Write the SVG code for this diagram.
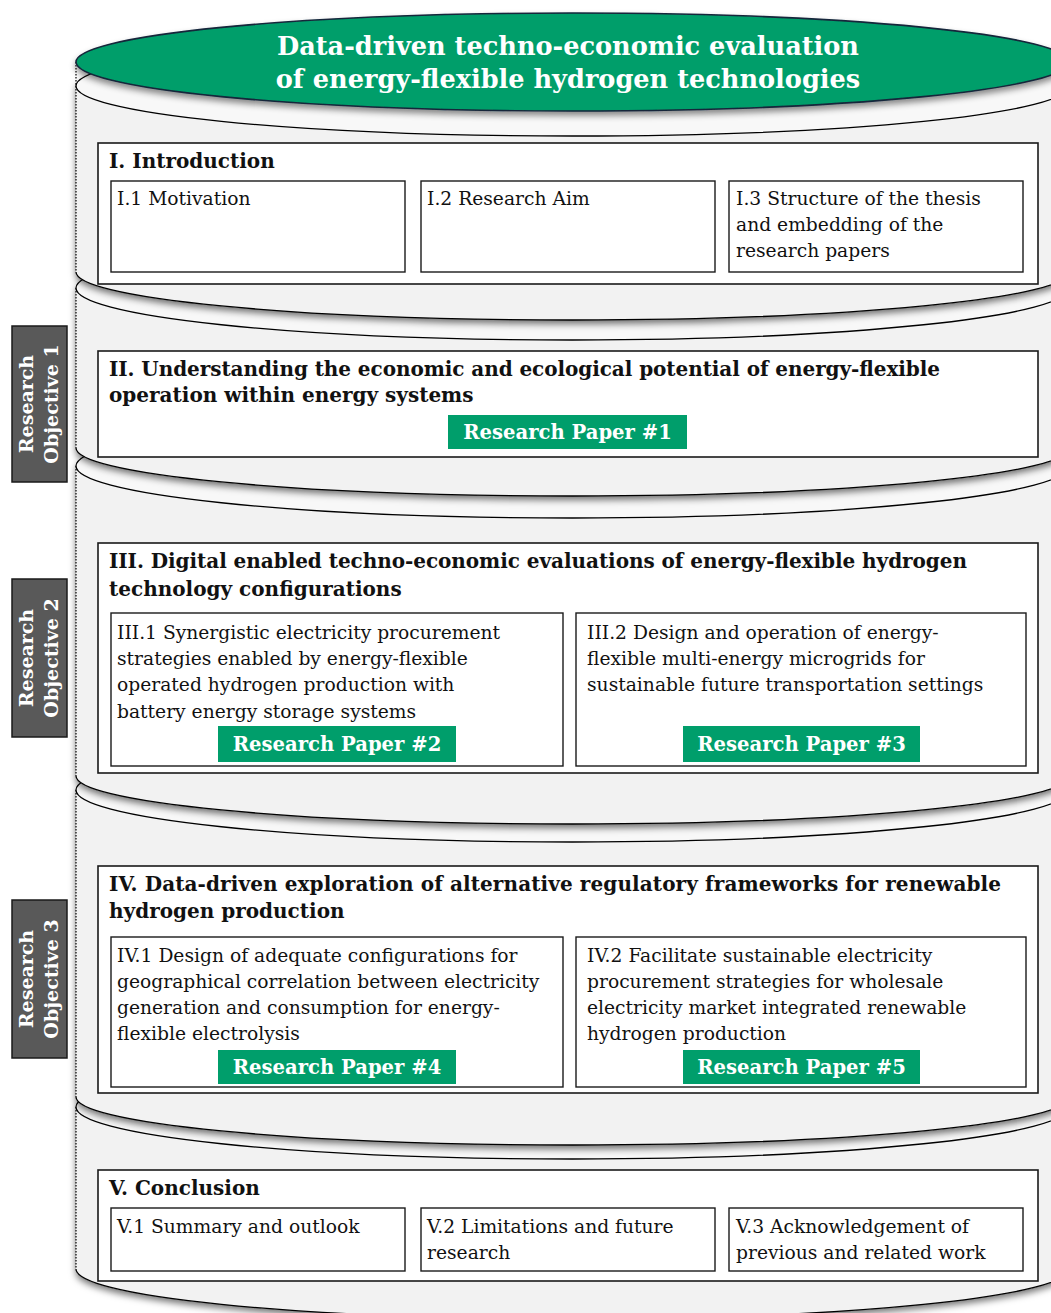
<svg xmlns="http://www.w3.org/2000/svg" width="1051" height="1313" viewBox="0 0 1051 1313">
<defs>
<filter id="sh" x="-5%" y="-20%" width="110%" height="140%">
<feDropShadow dx="0" dy="4" stdDeviation="3.5" flood-color="#000" flood-opacity="0.55"/>
</filter>
<filter id="sh2" x="-5%" y="-20%" width="110%" height="150%">
<feDropShadow dx="0" dy="4" stdDeviation="3" flood-color="#000" flood-opacity="0.45"/>
</filter>
<style>
.body{fill:#f2f2f2;stroke:none}
.face{fill:#f8f8f8;stroke:#000;stroke-width:1.3}
.arc{fill:none;stroke:#000;stroke-width:1.3}
.edge{stroke:#000;stroke-width:1.2;stroke-dasharray:1.5 1.5}
.box{fill:#fff;stroke:#1a1a1a;stroke-width:1.6}
.ibox{fill:#fff;stroke:#1a1a1a;stroke-width:1.4}
.t{font-family:"DejaVu Serif","Liberation Serif",serif;font-size:18.7px;fill:#111}
.b{font-family:"DejaVu Serif","Liberation Serif",serif;font-size:20px;font-weight:bold;fill:#111}
.rp{fill:#009e6b}
.rpt{font-family:"DejaVu Serif","Liberation Serif",serif;font-size:19.6px;font-weight:bold;fill:#fff;text-anchor:middle}
.ro{fill:#595959;stroke:#1a1a1a;stroke-width:1.5}
.rot{font-family:"DejaVu Serif","Liberation Serif",serif;font-size:19px;font-weight:bold;fill:#fff;text-anchor:middle}
.title{font-family:"DejaVu Serif","Liberation Serif",serif;font-size:25.6px;font-weight:bold;fill:#fff;text-anchor:middle}
</style>
</defs>

<g id="cylinder">
<g id="layer5">
<path class="body" filter="url(#sh)" d="M76,1107 L76,1269 A496.5,50 0 0 0 1069,1269 L1069,1107 A496.5,52 0 0 0 76,1107 Z"/>
<path class="arc" d="M76,1269 A496.5,50 0 0 0 1069,1269"/>
<line class="edge" x1="76" y1="1107" x2="76" y2="1269"/>
<ellipse class="face" cx="572.5" cy="1107" rx="496.5" ry="52"/>
</g>
<g id="layer4">
<path class="body" filter="url(#sh)" d="M76,790 L76,1097 A496.5,48 0 0 0 1069,1097 L1069,790 A496.5,52 0 0 0 76,790 Z"/>
<path class="arc" d="M76,1097 A496.5,48 0 0 0 1069,1097"/>
<line class="edge" x1="76" y1="790" x2="76" y2="1097"/>
<ellipse class="face" cx="572.5" cy="790" rx="496.5" ry="52"/>
</g>
<g id="layer3">
<path class="body" filter="url(#sh)" d="M76,466 L76,776 A496.5,48 0 0 0 1069,776 L1069,466 A496.5,52 0 0 0 76,466 Z"/>
<path class="arc" d="M76,776 A496.5,48 0 0 0 1069,776"/>
<line class="edge" x1="76" y1="466" x2="76" y2="776"/>
<ellipse class="face" cx="572.5" cy="466" rx="496.5" ry="52"/>
</g>
<g id="layer2">
<path class="body" filter="url(#sh)" d="M76,288 L76,448 A496.5,48 0 0 0 1069,448 L1069,288 A496.5,52 0 0 0 76,288 Z"/>
<path class="arc" d="M76,448 A496.5,48 0 0 0 1069,448"/>
<line class="edge" x1="76" y1="288" x2="76" y2="448"/>
<ellipse class="face" cx="572.5" cy="288" rx="496.5" ry="52"/>
</g>
<g id="layer1">
<path class="body" filter="url(#sh)" d="M76,86 L76,272 A496.5,48 0 0 0 1069,272 L1069,86 A496.5,50 0 0 0 76,86 Z"/>
<path class="arc" d="M76,272 A496.5,48 0 0 0 1069,272"/>
<line class="edge" x1="76" y1="86" x2="76" y2="272"/>
<ellipse class="face" cx="572.5" cy="86" rx="496.5" ry="50"/>
</g>
<line class="edge" x1="76" y1="62" x2="76" y2="86"/>
</g>

<g id="title">
<ellipse cx="572.5" cy="62" rx="496.5" ry="49" fill="#009e6b" stroke="#14263a" stroke-width="1.6" filter="url(#sh2)"/>
<text class="title" x="568" y="55">Data-driven techno-economic evaluation</text>
<text class="title" x="568" y="88">of energy-flexible hydrogen technologies</text>
</g>

<g id="ro1">
<rect class="ro" x="12" y="326" width="55" height="156"/>
<text class="rot" transform="translate(33,404) rotate(-90)">Research</text>
<text class="rot" transform="translate(58,404) rotate(-90)">Objective 1</text>
</g>
<g id="ro2">
<rect class="ro" x="12" y="579" width="55" height="158"/>
<text class="rot" transform="translate(33,658) rotate(-90)">Research</text>
<text class="rot" transform="translate(58,658) rotate(-90)">Objective 2</text>
</g>
<g id="ro3">
<rect class="ro" x="12" y="900" width="55" height="158"/>
<text class="rot" transform="translate(33,979) rotate(-90)">Research</text>
<text class="rot" transform="translate(58,979) rotate(-90)">Objective 3</text>
</g>

<g id="sec1">
<rect class="box" x="98" y="143" width="940" height="141"/>
<text class="b" x="109" y="168">I. Introduction</text>
</g>
<g id="sec1-1">
<rect class="ibox" x="111" y="181" width="294" height="91"/>
<text class="t" x="117" y="205">I.1 Motivation</text>
</g>
<g id="sec1-2">
<rect class="ibox" x="421" y="181" width="294" height="91"/>
<text class="t" x="427" y="205">I.2 Research Aim</text>
</g>
<g id="sec1-3">
<rect class="ibox" x="729" y="181" width="294" height="91"/>
<text class="t" x="736" y="205">I.3 Structure of the thesis</text>
<text class="t" x="736" y="231">and embedding of the</text>
<text class="t" x="736" y="257">research papers</text>
</g>

<g id="sec2">
<rect class="box" x="98" y="351" width="940" height="106"/>
<text class="b" x="109" y="376" textLength="831">II. Understanding the economic and ecological potential of energy-flexible</text>
<text class="b" x="109" y="402">operation within energy systems</text>
</g>
<g id="rp1">
<rect class="rp" x="448" y="415" width="239" height="34"/>
<text class="rpt" x="567.5" y="439">Research Paper #1</text>
</g>

<g id="sec3">
<rect class="box" x="98" y="543" width="940" height="230"/>
<text class="b" x="109" y="568" textLength="858">III. Digital enabled techno-economic evaluations of energy-flexible hydrogen</text>
<text class="b" x="109" y="596">technology configurations</text>
</g>
<g id="sec3-1">
<rect class="ibox" x="111" y="613" width="452" height="153"/>
<text class="t" x="117" y="639">III.1 Synergistic electricity procurement</text>
<text class="t" x="117" y="665">strategies enabled by energy-flexible</text>
<text class="t" x="117" y="691">operated hydrogen production with</text>
<text class="t" x="117" y="718">battery energy storage systems</text>
</g>
<g id="rp2">
<rect class="rp" x="218" y="726" width="238" height="36"/>
<text class="rpt" x="337" y="751">Research Paper #2</text>
</g>
<g id="sec3-2">
<rect class="ibox" x="576" y="613" width="450" height="153"/>
<text class="t" x="587" y="639">III.2 Design and operation of energy-</text>
<text class="t" x="587" y="665">flexible multi-energy microgrids for</text>
<text class="t" x="587" y="691">sustainable future transportation settings</text>
</g>
<g id="rp3">
<rect class="rp" x="683" y="726" width="237" height="36"/>
<text class="rpt" x="801.5" y="751">Research Paper #3</text>
</g>

<g id="sec4">
<rect class="box" x="98" y="866" width="940" height="227"/>
<text class="b" x="109" y="891" textLength="892">IV. Data-driven exploration of alternative regulatory frameworks for renewable</text>
<text class="b" x="109" y="918">hydrogen production</text>
</g>
<g id="sec4-1">
<rect class="ibox" x="111" y="937" width="452" height="150"/>
<text class="t" x="117" y="962">IV.1 Design of adequate configurations for</text>
<text class="t" x="117" y="988">geographical correlation between electricity</text>
<text class="t" x="117" y="1014">generation and consumption for energy-</text>
<text class="t" x="117" y="1040">flexible electrolysis</text>
</g>
<g id="rp4">
<rect class="rp" x="218" y="1050" width="238" height="34"/>
<text class="rpt" x="337" y="1074">Research Paper #4</text>
</g>
<g id="sec4-2">
<rect class="ibox" x="576" y="937" width="450" height="150"/>
<text class="t" x="587" y="962">IV.2 Facilitate sustainable electricity</text>
<text class="t" x="587" y="988">procurement strategies for wholesale</text>
<text class="t" x="587" y="1014">electricity market integrated renewable</text>
<text class="t" x="587" y="1040">hydrogen production</text>
</g>
<g id="rp5">
<rect class="rp" x="683" y="1050" width="237" height="34"/>
<text class="rpt" x="801.5" y="1074">Research Paper #5</text>
</g>

<g id="sec5">
<rect class="box" x="98" y="1170" width="940" height="111"/>
<text class="b" x="109" y="1195">V. Conclusion</text>
</g>
<g id="sec5-1">
<rect class="ibox" x="111" y="1208" width="294" height="63"/>
<text class="t" x="117" y="1233">V.1 Summary and outlook</text>
</g>
<g id="sec5-2">
<rect class="ibox" x="421" y="1208" width="294" height="63"/>
<text class="t" x="427" y="1233">V.2 Limitations and future</text>
<text class="t" x="427" y="1259">research</text>
</g>
<g id="sec5-3">
<rect class="ibox" x="729" y="1208" width="294" height="63"/>
<text class="t" x="736" y="1233">V.3 Acknowledgement of</text>
<text class="t" x="736" y="1259">previous and related work</text>
</g>

<g id="connectors"/>
</svg>
